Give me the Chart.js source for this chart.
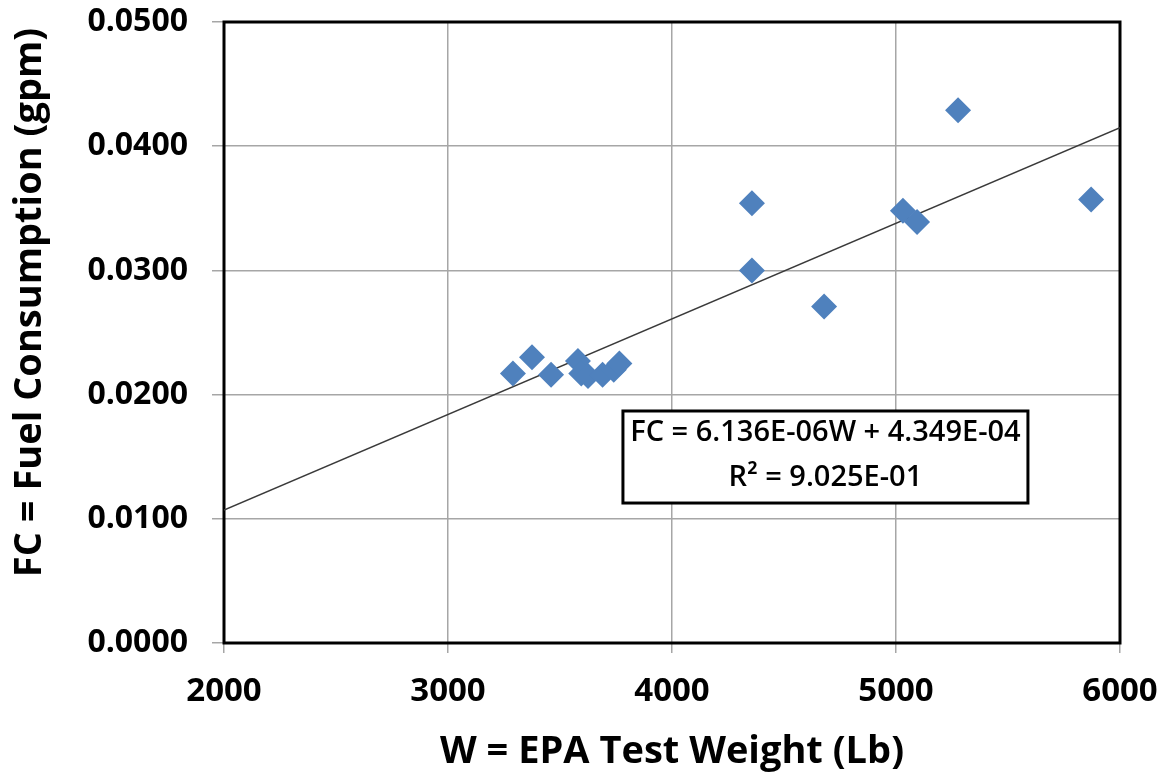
<!DOCTYPE html>
<html>
<head>
<meta charset="utf-8">
<script src="https://cdn.jsdelivr.net/npm/chart.js@4"></script>
<style>
  html, body { margin: 0; padding: 0; background: #fff; }
  #wrap { width: 1167px; height: 775px; }
</style>
</head>
<body>
<div id="wrap"><canvas id="scatterCanvas" width="1167" height="775"></canvas></div>
<script>
// données
const weights = [3290, 3375, 3460, 3580, 3595, 3625, 3690, 3740, 3765,
                 4357, 4357, 4679, 5031, 5094, 5277, 5871];
const fuel = [0.0217, 0.0230, 0.0216, 0.0227, 0.0217, 0.0215, 0.0216, 0.0220, 0.0225,
              0.0354, 0.0300, 0.0271, 0.0348, 0.0339, 0.0429, 0.0357];
const trendX = [2000, 6000];
const trendY = [0.0107, 0.0415];
const xTicks = [2000, 3000, 4000, 5000, 6000];
const yTicks = [0.0, 0.01, 0.02, 0.03, 0.04, 0.05];
const eqLines = ["FC = 6.136E-06W + 4.349E-04", "R\u00b2 = 9.025E-01"];
const yTitle = "FC = Fuel Consumption (gpm)";

const FONT = "'Open Sans', 'DejaVu Sans', sans-serif";

// cadre noir, titre de l'axe Y et boîte de l'équation
const framePlugin = {
    id: "frame",
    beforeDatasetsDraw(chart) {
        const a = chart.chartArea;
        const ctx = chart.ctx;
        ctx.save();
        ctx.strokeStyle = "#000";
        ctx.lineWidth = 3;
        ctx.strokeRect(a.left, a.top, a.right - a.left, a.bottom - a.top);
        // titre vertical (un peu au-dessus du centre, comme sur l'original)
        ctx.translate(30, (a.top + a.bottom) / 2 - 30);
        ctx.rotate(-Math.PI / 2);
        ctx.fillStyle = "#000";
        ctx.font = "bold 38px " + FONT;
        ctx.textAlign = "center";
        ctx.textBaseline = "middle";
        ctx.fillText(yTitle, 0, 0);
        ctx.restore();
    },
    afterDatasetsDraw(chart) {
        const xs = chart.scales.x, ys = chart.scales.y;
        const ctx = chart.ctx;
        const l = xs.getPixelForValue(3781), r = xs.getPixelForValue(5589);
        const t = ys.getPixelForValue(0.01868), b = ys.getPixelForValue(0.01127);
        ctx.save();
        ctx.fillStyle = "#fff";
        ctx.fillRect(l, t, r - l, b - t);
        ctx.strokeStyle = "#000";
        ctx.lineWidth = 3;
        ctx.strokeRect(l, t, r - l, b - t);
        ctx.fillStyle = "#000";
        ctx.font = "600 29px " + FONT;
        ctx.textAlign = "center";
        ctx.textBaseline = "middle";
        const cx = (l + r) / 2, h = b - t;
        ctx.fillText(eqLines[0], cx, t + h * 0.24);
        ctx.fillText(eqLines[1], cx, t + h * 0.72);
        ctx.restore();
    }
};

const scatterCanvas = document.getElementById("scatterCanvas");

const scatterChart = new Chart(scatterCanvas, {
    type: "scatter",
    data: {
        datasets: [{
            data: weights.map((w, i) => ({ x: w, y: fuel[i] })),
            pointStyle: "rectRot",
            pointRadius: 13,
            pointHoverRadius: 13,
            backgroundColor: "#4f81bd",
            borderColor: "#4f81bd",
            borderWidth: 0
        }, {
            data: trendX.map((w, i) => ({ x: w, y: trendY[i] })),
            showLine: true,
            pointRadius: 0,
            borderColor: "#3a3a3a",
            borderWidth: 1.5
        }]
    },
    options: {
        responsive: false,
        animation: false,
        events: [],
        layout: { padding: { left: 0, top: 22, right: 47, bottom: 0 } },
        plugins: {
            legend: { display: false },
            tooltip: { enabled: false }
        },
        scales: {
            x: {
                type: "linear",
                min: 2000,
                max: 6000,
                afterBuildTicks: s => { s.ticks = xTicks.map(v => ({ value: v })); },
                afterFit: s => { s.height = 132; s.paddingLeft = 0; s.paddingRight = 0; },
                grid: { color: "#a6a6a6", lineWidth: 1.5, tickLength: 10 },
                border: { display: false },
                ticks: {
                    color: "#000",
                    padding: 19,
                    callback: v => String(v),
                    font: { family: FONT, size: 33, weight: "bold" }
                },
                title: {
                    display: true,
                    text: "W = EPA Test Weight (Lb)",
                    color: "#000",
                    padding: { top: 0, bottom: 0 },
                    font: { family: FONT, size: 38, weight: "bold" }
                }
            },
            y: {
                type: "linear",
                min: 0,
                max: 0.05,
                afterBuildTicks: s => { s.ticks = yTicks.map(v => ({ value: v })); },
                afterFit: s => { s.width = 224; s.paddingTop = 0; s.paddingBottom = 0; },
                grid: { color: "#a6a6a6", lineWidth: 1.5, tickLength: 12 },
                border: { display: false },
                ticks: {
                    color: "#000",
                    padding: 24,
                    callback: v => v.toFixed(4),
                    font: { family: FONT, size: 32, weight: "bold" }
                }
            }
        }
    },
    plugins: [framePlugin]
});
</script>
</body>
</html>
